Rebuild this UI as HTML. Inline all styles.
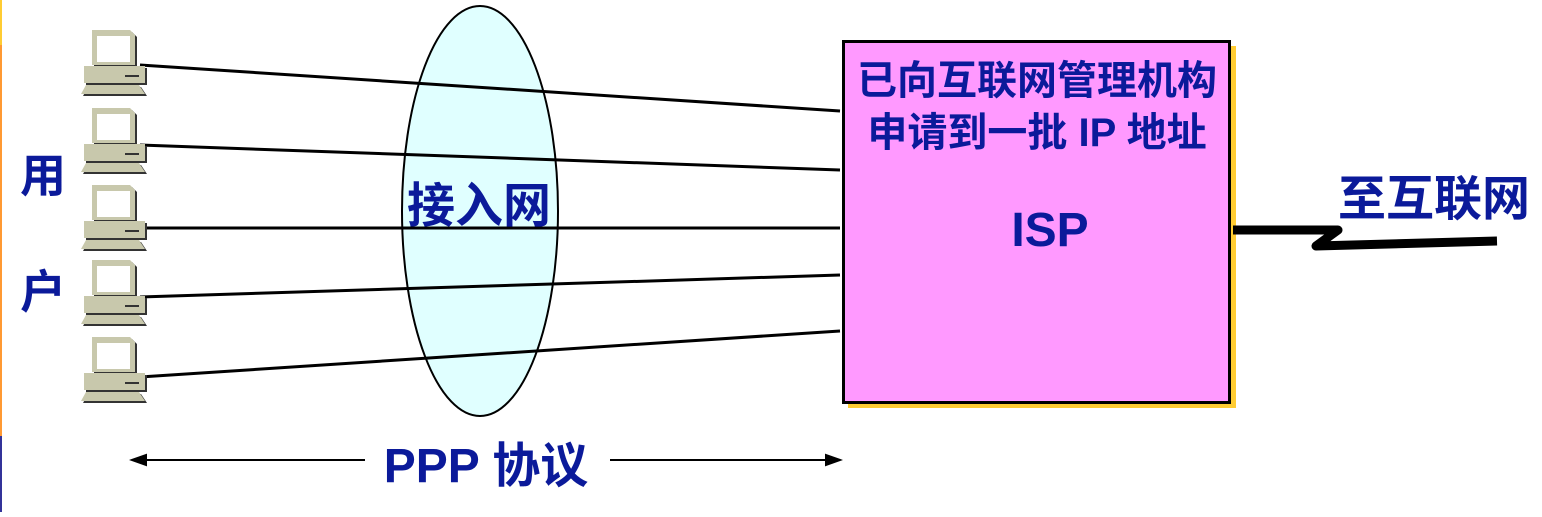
<!DOCTYPE html>
<html><head><meta charset="utf-8"><style>
body{margin:0;width:1542px;height:512px;overflow:hidden;background:#fff;}
svg text{font-family:"Liberation Sans","Noto Sans CJK SC",sans-serif;font-weight:bold;fill:#0b1a9a;}
</style></head><body>
<svg width="1542" height="512" viewBox="0 0 1542 512" xmlns="http://www.w3.org/2000/svg">
<defs>
<g id="pc">
<path d="M94,2 L132,2 L137,7 L137,37 L94,37 Z" fill="#333"/>
<path d="M92,0 L130,0 L135,5 L135,35 L92,35 Z" fill="#c8c8ac"/>
<rect x="97" y="6" width="33" height="26" fill="#fff"/>
<rect x="86" y="38" width="61" height="17" fill="#333"/>
<rect x="84" y="36" width="61" height="17" fill="#c8c8ac"/>
<rect x="125" y="45" width="14" height="2" fill="#333"/>
<path d="M88,57 L141,57 L147,66 L83,66 Z" fill="#333"/>
<path d="M86,55 L139,55 L145,64 L81,64 Z" fill="#c8c8ac"/>
</g>
</defs>
<rect x="0" y="0" width="2" height="45" fill="#ffcc33"/>
<rect x="0" y="45" width="2" height="391" fill="#ff9933"/>
<rect x="0" y="436" width="2" height="76" fill="#333399"/>
<ellipse cx="480" cy="211" rx="78" ry="205" fill="#e0ffff" stroke="#000" stroke-width="2"/>
<g stroke="#000" stroke-width="3">
<line x1="140" y1="65" x2="840" y2="111"/>
<line x1="140" y1="145" x2="840" y2="170"/>
<line x1="140" y1="228" x2="840" y2="228"/>
<line x1="140" y1="297" x2="840" y2="275"/>
<line x1="140" y1="377" x2="840" y2="331"/>
</g>
<use href="#pc" y="30"/>
<use href="#pc" y="108"/>
<use href="#pc" y="185"/>
<use href="#pc" y="260"/>
<use href="#pc" y="337"/>
<rect x="848" y="46" width="388" height="362" fill="#ffcc33"/>
<rect x="843.5" y="41.5" width="386" height="361" fill="#ff99ff" stroke="#000" stroke-width="3"/>
<text x="1037" y="94" font-size="40" text-anchor="middle">已向互联网管理机构</text>
<text x="1037" y="146" font-size="40" text-anchor="middle">申请到一批 IP 地址</text>
<text x="1050" y="246" font-size="48" text-anchor="middle">ISP</text>
<text x="479" y="222" font-size="48" text-anchor="middle">接入网</text>
<text x="20" y="192" font-size="46">用</text>
<text x="20" y="308" font-size="46">户</text>
<text x="1338" y="215" font-size="48">至互联网</text>
<path d="M1233,230 L1338,230 L1316,246 L1497,241" fill="none" stroke="#000" stroke-width="9" stroke-linejoin="round"/>
<text x="486" y="482" font-size="48" text-anchor="middle">PPP 协议</text>
<g stroke="#000" stroke-width="2" fill="#000">
<line x1="140" y1="460" x2="365" y2="460"/>
<path d="M132,460 L146,455 L146,465 Z"/>
<line x1="610" y1="460" x2="830" y2="460"/>
<path d="M840,460 L826,455 L826,465 Z"/>
</g>
</svg>
</body></html>
